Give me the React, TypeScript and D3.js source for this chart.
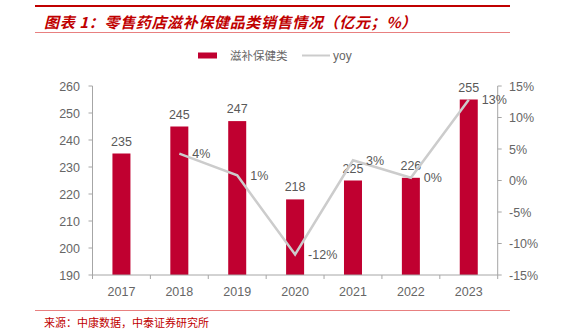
import React from "react";
import * as d3 from "d3";

const years = ["2017", "2018", "2019", "2020", "2021", "2022", "2023"];
const sales = [235, 245, 247, 218, 225, 226, 255];
const yoy = [null, 4.26, 0.82, -11.74, 3.21, 0.44, 12.83];
const yoyLabels = ["", "4%", "1%", "-12%", "3%", "0%", "13%"];
const leftTicks = [190, 200, 210, 220, 230, 240, 250, 260];
const rightTicks = [-15, -10, -5, 0, 5, 10, 15];

const W = 573, H = 335;
const RED = "#C00030";
const GRAY_TXT = "#666666";
const AXIS = "#a6a6a6";
const LINE = "#cccccc";
const FONT = "'Liberation Sans', Arial, sans-serif";
const CJK = "'Noto Sans CJK SC', sans-serif";

export default function App() {
  const left = 92.5, right = 497.7, top = 86, bottom = 275;
  const step = (right - left) / years.length;
  const cx = (y: string) => left + step * (years.indexOf(y) + 0.5);
  const barW = 18;
  const yL = d3.scaleLinear().domain([190, 260]).range([bottom, top]);
  const yR = d3.scaleLinear().domain([-15, 15]).range([bottom, top]);
  const pts = years.map((y, i) => ({ y, v: yoy[i] })).filter((d) => d.v !== null) as { y: string; v: number }[];
  const line = d3.line<{ y: string; v: number }>().x((d) => cx(d.y)).y((d) => yR(d.v))(pts) || "";
  return (
    <svg width={W} height={H} style={{ position: "absolute", left: 0, top: 0, background: "#fff" }}>
      <line x1={35} x2={510} y1={6} y2={6} stroke="#C00000" strokeWidth={2} />
      <text x={44} y={28} fill="#C00000" fontFamily={CJK} fontSize={15} fontWeight="bold" fontStyle="italic" letterSpacing={0.65}>
        图表 1：零售药店滋补保健品类销售情况（亿元；%）
      </text>
      <line x1={35} x2={510} y1={32.5} y2={32.5} stroke="#E88080" strokeWidth={1} />

      {/* legend */}
      <rect x={198} y={52.5} width={19} height={6} fill={RED} />
      <text x={230} y={60} fill={GRAY_TXT} fontFamily={CJK} fontSize={11.5}>滋补保健类</text>
      <line x1={302} x2={330} y1={55.5} y2={55.5} stroke={LINE} strokeWidth={2} />
      <text x={333} y={60} fill={GRAY_TXT} fontFamily={FONT} fontSize={12}>yoy</text>

      {/* bars */}
      {years.map((y, i) => (
        <g key={y}>
          <rect x={cx(y) - barW / 2} y={yL(sales[i])} width={barW} height={bottom - yL(sales[i])} fill={RED} />
          <text x={cx(y)} y={yL(sales[i]) - 8} textAnchor="middle" fill="#595959" fontFamily={FONT} fontSize={12.5}>
            {sales[i]}
          </text>
        </g>
      ))}

      {/* axes */}
      <line x1={left} x2={left} y1={top} y2={bottom} stroke={AXIS} />
      <line x1={right} x2={right} y1={top} y2={bottom} stroke={AXIS} />
      <line x1={left} x2={right} y1={bottom} y2={bottom} stroke={AXIS} />
      {leftTicks.map((t) => (
        <g key={t}>
          <line x1={left - 4} x2={left} y1={yL(t)} y2={yL(t)} stroke={AXIS} />
          <text x={80} y={yL(t) + 4.5} textAnchor="end" fill={GRAY_TXT} fontFamily={FONT} fontSize={12.5}>{t}</text>
        </g>
      ))}
      {rightTicks.map((t) => (
        <g key={t}>
          <line x1={right} x2={right + 4} y1={yR(t)} y2={yR(t)} stroke={AXIS} />
          <text x={509} y={yR(t) + 4.5} textAnchor="start" fill={GRAY_TXT} fontFamily={FONT} fontSize={12.5}>{t}%</text>
        </g>
      ))}
      {d3.range(years.length + 1).map((i) => (
        <line key={i} x1={left + step * i} x2={left + step * i} y1={bottom} y2={bottom + 4} stroke={AXIS} />
      ))}
      {years.map((y) => (
        <text key={y} x={cx(y)} y={295.5} textAnchor="middle" fill={GRAY_TXT} fontFamily={FONT} fontSize={12.5}>{y}</text>
      ))}

      {/* yoy line */}
      <path d={line} fill="none" stroke={LINE} strokeWidth={2.5} />
      {pts.map((d) => (
        <text key={d.y} x={cx(d.y) + 13} y={yR(d.v) + 4.5} fill="#595959" fontFamily={FONT} fontSize={12.5}>
          {yoyLabels[years.indexOf(d.y)]}
        </text>
      ))}

      <line x1={35} x2={510} y1={310.5} y2={310.5} stroke="#E88080" strokeWidth={1} />
      <text x={44} y={327} fill="#C00000" fontFamily={CJK} fontSize={11}>来源：中康数据，中泰证券研究所</text>
    </svg>
  );
}
